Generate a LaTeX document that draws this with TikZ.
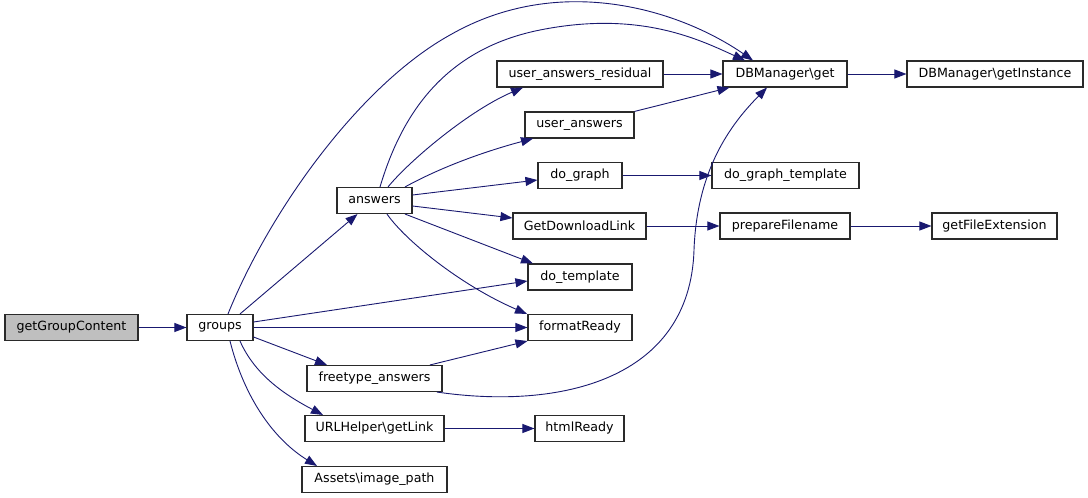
\documentclass[tikz,border=0pt]{standalone}
\usepackage{fontspec}
\setmainfont{DejaVu Sans}
\usetikzlibrary{arrows.meta}
\definecolor{edgec}{HTML}{191970}
\definecolor{hl}{HTML}{BFBFBF}
\definecolor{bord}{HTML}{2A2A2A}
\tikzset{
  fn/.style={draw=bord, line width=1.1pt, fill=white, rectangle, minimum height=26pt, inner sep=0pt, font=\fontsize{12.66}{14}\selectfont},
  call/.style={draw=edgec, line width=0.9pt, -{Triangle[length=12pt,width=9pt]}},
}
\begin{document}
\begin{tikzpicture}[x=1pt,y=-1pt]
\useasboundingbox (0,0) rectangle (1088,498);
\node[fn, fill=hl, minimum width=133pt] (ggc) at (71.5,327.5) {getGroupContent};
\node[fn, minimum width=66pt] (groups) at (220,327.5) {groups};
\node[fn, minimum width=75pt] (answers) at (374.5,200.5) {answers};
\node[fn, minimum width=166pt] (uar) at (580,74) {user\_answers\_residual};
\node[fn, minimum width=109pt] (ua) at (579.5,125) {user\_answers};
\node[fn, minimum width=84pt] (dograph) at (580,175.5) {do\_graph};
\node[fn, minimum width=133pt] (gdl) at (579.5,226) {GetDownloadLink};
\node[fn, minimum width=104pt] (dotpl) at (580,277) {do\_template};
\node[fn, minimum width=104pt] (fr) at (580,327.5) {formatReady};
\node[fn, minimum width=135pt] (fta) at (374.5,378.5) {freetype\_answers};
\node[fn, minimum width=139pt] (url) at (374.5,428.5) {URLHelper\textbackslash getLink};
\node[fn, minimum width=145pt] (assets) at (374.5,479.5) {Assets\textbackslash image\_path};
\node[fn, minimum width=124pt] (dbget) at (785,74) {DBManager\textbackslash get};
\node[fn, minimum width=147pt] (dgt) at (785.5,175.5) {do\_graph\_template};
\node[fn, minimum width=130pt] (pf) at (785,226) {prepareFilename};
\node[fn, minimum width=89pt] (html) at (579.5,428.5) {htmlReady};
\node[fn, minimum width=176pt] (dbgi) at (995,74) {DBManager\textbackslash getInstance};
\node[fn, minimum width=125pt] (gfe) at (994.5,226) {getFileExtension};

\draw[call] (ggc) -- (groups);
\draw[call] ([xshift=20pt]groups.north) -- ([xshift=-17pt]answers.south);
\draw[call] ([xshift=8pt]groups.north) .. controls (270,210) and (360,85) .. (450,35)
  .. controls (560,-28) and (680,10) .. ([xshift=-32pt]dbget.north);
\draw[call] ([yshift=5.5pt]groups.east) -- ([yshift=-4pt]dotpl.west);
\draw[call] (groups.east) -- (fr.west);
\draw[call] ([yshift=-9.5pt]groups.east) -- ([xshift=-47.5pt]fta.north);
\draw[call] ([xshift=20pt]groups.south) .. controls (255,375) and (285,395) .. ([xshift=-51.5pt]url.north);
\draw[call] ([xshift=10pt]groups.south) .. controls (245,400) and (275,440) .. ([xshift=-57.5pt]assets.north);

\draw[call] ([xshift=5.5pt]answers.north) .. controls (400,120) and (440,50) .. (540,30)
  .. controls (640,10) and (700,40) .. ([xshift=-40pt]dbget.north);
\draw[call] ([xshift=13.5pt]answers.north) .. controls (410,160) and (470,110) .. ([xshift=-57pt]uar.south);
\draw[call] ([xshift=30.5pt]answers.north) .. controls (445,165) and (490,150) .. ([xshift=-46.5pt]ua.south);
\draw[call] ([yshift=5.5pt]answers.east) -- ([yshift=-4.5pt]dograph.west);
\draw[call] ([yshift=-5.5pt]answers.east) -- ([yshift=8pt]gdl.west);
\draw[call] ([xshift=30.5pt]answers.south) -- ([xshift=-47pt]dotpl.north);
\draw[call] ([xshift=12.5pt]answers.south) .. controls (405,240) and (460,285) .. ([xshift=-53pt]fr.north);

\draw[call] ([xshift=55.5pt]fta.north) -- (fr.south west);
\draw[call] ([xshift=62.5pt]fta.south) .. controls (560,410) and (690,380) .. (694,250)
  .. controls (697,170) and (730,125) .. ([xshift=-18pt]dbget.south);

\draw[call] (uar) -- (dbget);
\draw[call] (ua.north east) -- ([xshift=7pt]dbget.south west);
\draw[call] (dograph) -- (dgt);
\draw[call] (gdl) -- (pf);
\draw[call] (pf) -- (gfe);
\draw[call] (dbget) -- (dbgi);
\draw[call] (url) -- (html);
\end{tikzpicture}
\end{document}
